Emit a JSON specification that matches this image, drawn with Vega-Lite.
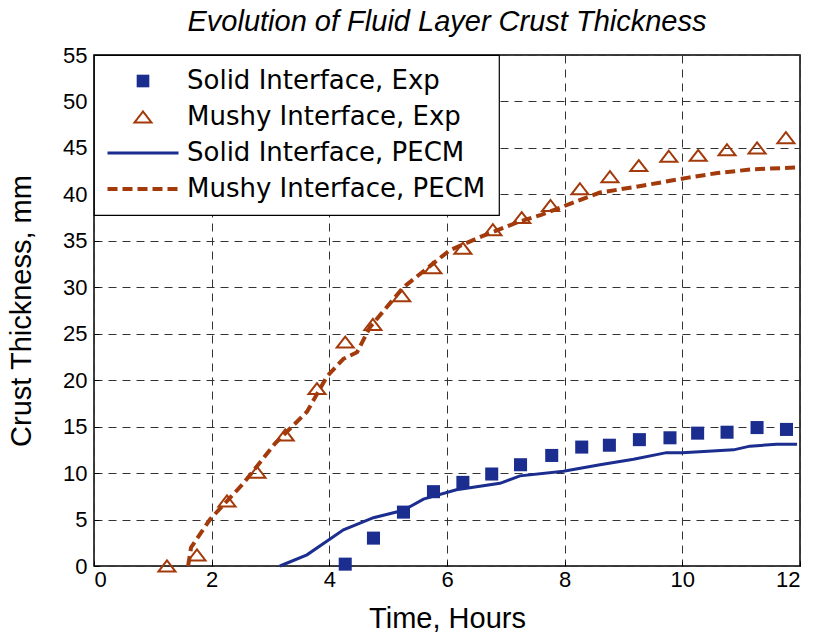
{
  "$schema": "https://vega.github.io/schema/vega-lite/v6.json",
  "width": 706,
  "height": 511,
  "autosize": {"type": "none"},
  "padding": {"left": 94, "top": 55, "right": 14, "bottom": 68},
  "background": "white",
  "title": {"text": "Evolution of Fluid Layer Crust Thickness", "font": "Liberation Sans", "fontSize": 29, "fontStyle": "italic", "fontWeight": "normal", "color": "black", "anchor": "middle", "offset": 7},
  "config": {
    "view": {"stroke": "black", "strokeWidth": 1.5},
    "legend": {"strokeWidth": 1.2},
    "axis": {
      "domain": false,
      "grid": true,
      "gridColor": "#333333",
      "gridDash": [8, 6],
      "gridOpacity": 1,
      "gridWidth": 1,
      "ticks": true,
      "tickSize": -5,
      "tickColor": "black",
      "tickWidth": 1,
      "labelFont": "Liberation Sans",
      "labelFontSize": 22,
      "labelColor": "black",
      "titleFont": "Liberation Sans",
      "titleFontSize": 29,
      "titleFontWeight": "normal",
      "titleColor": "black"
    }
  },
  "datasets": {
    "solidExp": [
      {"series": "Solid Interface, Exp", "t": 4.27, "h": 0.2},
      {"series": "Solid Interface, Exp", "t": 4.75, "h": 3.0},
      {"series": "Solid Interface, Exp", "t": 5.26, "h": 5.8},
      {"series": "Solid Interface, Exp", "t": 5.77, "h": 8.0},
      {"series": "Solid Interface, Exp", "t": 6.27, "h": 9.0},
      {"series": "Solid Interface, Exp", "t": 6.76, "h": 9.9},
      {"series": "Solid Interface, Exp", "t": 7.25, "h": 10.9},
      {"series": "Solid Interface, Exp", "t": 7.78, "h": 11.9},
      {"series": "Solid Interface, Exp", "t": 8.29, "h": 12.8},
      {"series": "Solid Interface, Exp", "t": 8.76, "h": 13.0},
      {"series": "Solid Interface, Exp", "t": 9.27, "h": 13.6},
      {"series": "Solid Interface, Exp", "t": 9.79, "h": 13.8},
      {"series": "Solid Interface, Exp", "t": 10.26, "h": 14.3},
      {"series": "Solid Interface, Exp", "t": 10.76, "h": 14.4},
      {"series": "Solid Interface, Exp", "t": 11.27, "h": 14.9},
      {"series": "Solid Interface, Exp", "t": 11.77, "h": 14.7}
    ],
    "mushyExp": [
      {"series": "Mushy Interface, Exp", "t": 1.24, "h": 0.0},
      {"series": "Mushy Interface, Exp", "t": 1.75, "h": 1.2},
      {"series": "Mushy Interface, Exp", "t": 2.26, "h": 7.0},
      {"series": "Mushy Interface, Exp", "t": 2.77, "h": 10.1},
      {"series": "Mushy Interface, Exp", "t": 3.25, "h": 14.1},
      {"series": "Mushy Interface, Exp", "t": 3.79, "h": 19.1},
      {"series": "Mushy Interface, Exp", "t": 4.27, "h": 24.1},
      {"series": "Mushy Interface, Exp", "t": 4.74, "h": 26.0},
      {"series": "Mushy Interface, Exp", "t": 5.23, "h": 29.1},
      {"series": "Mushy Interface, Exp", "t": 5.76, "h": 32.1},
      {"series": "Mushy Interface, Exp", "t": 6.27, "h": 34.2},
      {"series": "Mushy Interface, Exp", "t": 6.78, "h": 36.2},
      {"series": "Mushy Interface, Exp", "t": 7.27, "h": 37.5},
      {"series": "Mushy Interface, Exp", "t": 7.76, "h": 38.8},
      {"series": "Mushy Interface, Exp", "t": 8.26, "h": 40.6},
      {"series": "Mushy Interface, Exp", "t": 8.77, "h": 41.9},
      {"series": "Mushy Interface, Exp", "t": 9.26, "h": 43.1},
      {"series": "Mushy Interface, Exp", "t": 9.77, "h": 44.1},
      {"series": "Mushy Interface, Exp", "t": 10.27, "h": 44.2},
      {"series": "Mushy Interface, Exp", "t": 10.76, "h": 44.8},
      {"series": "Mushy Interface, Exp", "t": 11.27, "h": 45.0},
      {"series": "Mushy Interface, Exp", "t": 11.76, "h": 46.1}
    ],
    "solidModel": [
      {"series": "Solid Interface, PECM", "t": 3.16, "h": 0.0},
      {"series": "Solid Interface, PECM", "t": 3.62, "h": 1.2},
      {"series": "Solid Interface, PECM", "t": 4.24, "h": 3.9},
      {"series": "Solid Interface, PECM", "t": 4.75, "h": 5.2},
      {"series": "Solid Interface, PECM", "t": 5.26, "h": 6.0},
      {"series": "Solid Interface, PECM", "t": 5.6, "h": 7.2},
      {"series": "Solid Interface, PECM", "t": 6.16, "h": 8.2},
      {"series": "Solid Interface, PECM", "t": 6.9, "h": 8.9},
      {"series": "Solid Interface, PECM", "t": 7.24, "h": 9.7},
      {"series": "Solid Interface, PECM", "t": 7.98, "h": 10.2},
      {"series": "Solid Interface, PECM", "t": 8.6, "h": 10.9},
      {"series": "Solid Interface, PECM", "t": 9.17, "h": 11.5},
      {"series": "Solid Interface, PECM", "t": 9.73, "h": 12.2},
      {"series": "Solid Interface, PECM", "t": 10.0, "h": 12.2},
      {"series": "Solid Interface, PECM", "t": 10.87, "h": 12.5},
      {"series": "Solid Interface, PECM", "t": 11.15, "h": 12.9},
      {"series": "Solid Interface, PECM", "t": 11.6, "h": 13.1},
      {"series": "Solid Interface, PECM", "t": 11.95, "h": 13.1}
    ],
    "mushyModel": [
      {"series": "Mushy Interface, PECM", "t": 1.6, "h": 0.0},
      {"series": "Mushy Interface, PECM", "t": 1.65, "h": 2.0},
      {"series": "Mushy Interface, PECM", "t": 1.97, "h": 5.0},
      {"series": "Mushy Interface, PECM", "t": 2.54, "h": 8.9},
      {"series": "Mushy Interface, PECM", "t": 3.08, "h": 13.2},
      {"series": "Mushy Interface, PECM", "t": 3.62, "h": 16.6},
      {"series": "Mushy Interface, PECM", "t": 3.96, "h": 20.4},
      {"series": "Mushy Interface, PECM", "t": 4.24, "h": 22.3},
      {"series": "Mushy Interface, PECM", "t": 4.47, "h": 23.0},
      {"series": "Mushy Interface, PECM", "t": 4.69, "h": 25.7},
      {"series": "Mushy Interface, PECM", "t": 5.26, "h": 30.0},
      {"series": "Mushy Interface, PECM", "t": 6.05, "h": 34.0},
      {"series": "Mushy Interface, PECM", "t": 6.6, "h": 35.5},
      {"series": "Mushy Interface, PECM", "t": 7.2, "h": 37.0},
      {"series": "Mushy Interface, PECM", "t": 7.6, "h": 37.8},
      {"series": "Mushy Interface, PECM", "t": 8.1, "h": 39.0},
      {"series": "Mushy Interface, PECM", "t": 8.6, "h": 40.2},
      {"series": "Mushy Interface, PECM", "t": 9.2, "h": 40.8},
      {"series": "Mushy Interface, PECM", "t": 10.1, "h": 41.8},
      {"series": "Mushy Interface, PECM", "t": 10.6, "h": 42.3},
      {"series": "Mushy Interface, PECM", "t": 11.2, "h": 42.7},
      {"series": "Mushy Interface, PECM", "t": 12.0, "h": 42.9}
    ]
  },
  "encoding": {
    "x": {"field": "t", "type": "quantitative", "scale": {"domain": [0, 12], "nice": false}, "axis": {"title": "Time, Hours", "values": [0, 2, 4, 6, 8, 10, 12], "labelPadding": 8, "titlePadding": 14}},
    "y": {"field": "h", "type": "quantitative", "scale": {"domain": [0, 55], "nice": false}, "axis": {"title": "Crust Thickness, mm", "values": [0, 5, 10, 15, 20, 25, 30, 35, 40, 45, 50, 55], "labelPadding": 12, "titlePadding": 26}},
    "color": {
      "field": "series",
      "type": "nominal",
      "scale": {"domain": ["Solid Interface, Exp", "Mushy Interface, Exp", "Solid Interface, PECM", "Mushy Interface, PECM"], "range": ["#1b2d8f", "#a33a0b", "#1b2d8f", "#a33a0b"]},
      "legend": {
        "orient": "top-left",
        "offset": 0,
        "title": null,
        "padding": 13,
        "strokeColor": "black",
        "fillColor": "white",
        "cornerRadius": 0,
        "labelFont": "DejaVu Sans",
        "labelFontSize": 26,
        "labelColor": "black",
        "labelOffset": 9,
        "labelLimit": 500,
        "symbolSize": 5041,
        "rowPadding": 10,
        "encode": {
          "symbols": {
            "update": {
              "x": {"value": 36},
              "shape": {"signal": "datum.value === 'Solid Interface, Exp' ? 'square' : datum.value === 'Mushy Interface, Exp' ? 'M0,-0.65L1,0.65L-1,0.65Z' : 'stroke'"},
              "size": {"signal": "datum.value === 'Solid Interface, Exp' ? 160 : datum.value === 'Mushy Interface, Exp' ? 289 : 5041"},
              "fill": {"signal": "datum.value === 'Solid Interface, Exp' ? '#1b2d8f' : 'transparent'"},
              "stroke": {"signal": "indexof(datum.value, 'Solid') === 0 ? '#1b2d8f' : '#a33a0b'"},
              "strokeWidth": {"signal": "datum.value === 'Solid Interface, Exp' ? 0 : datum.value === 'Mushy Interface, Exp' ? 2 : datum.value === 'Solid Interface, PECM' ? 3 : 4"},
              "strokeDash": {"signal": "datum.value === 'Mushy Interface, PECM' ? [10, 5] : [1, 0]"},
              "opacity": {"value": 1},
              "fillOpacity": {"signal": "datum.value === 'Solid Interface, Exp' ? 1 : 0"},
              "strokeOpacity": {"value": 1}
            }
          },
          "labels": {
            "update": {
              "x": {"value": 80}
            }
          }
        }
      }
    }
  },
  "layer": [
    {"data": {"name": "solidExp"}, "mark": {"type": "point", "shape": "square", "filled": true, "size": 170, "opacity": 1}},
    {"data": {"name": "mushyExp"}, "mark": {"type": "point", "shape": "M0,-0.65L1,0.65L-1,0.65Z", "filled": false, "size": 289, "strokeWidth": 2, "opacity": 1}},
    {"data": {"name": "solidModel"}, "mark": {"type": "line", "strokeWidth": 3}},
    {"data": {"name": "mushyModel"}, "mark": {"type": "line", "strokeWidth": 4, "strokeDash": [10, 5]}}
  ]
}
